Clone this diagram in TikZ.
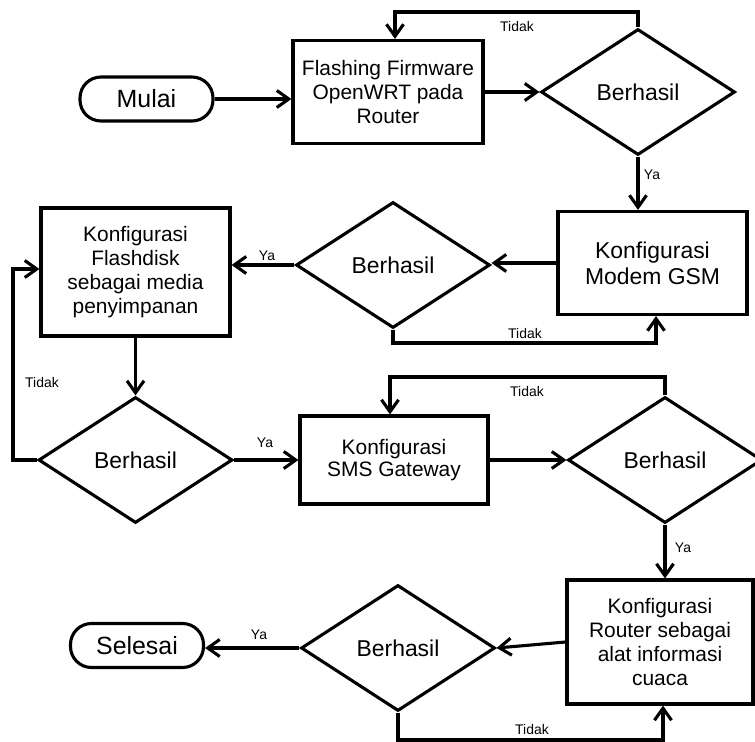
\documentclass[tikz,border=0pt]{standalone}
\usepackage{fontspec}
\setmainfont{Liberation Sans}
\usetikzlibrary{shapes.geometric,arrows.meta}
\begin{document}
\begin{tikzpicture}[x=1bp,y=-1bp,
  line width=3.1bp,
  flow/.style={-{Straight Barb[length=12bp,width=17bp]}},
  proc/.style={draw, rectangle, align=center, inner sep=0pt,
    font=\fontsize{21}{24}\selectfont},
  term/.style={draw, rectangle, rounded corners=21bp, inner sep=0pt,
    minimum width=133bp, minimum height=44bp, font=\fontsize{25}{28}\selectfont},
  decision/.style={draw, diamond, inner sep=0pt, minimum width=194bp,
    minimum height=126bp, font=\fontsize{23}{26}\selectfont},
  lbl/.style={inner sep=0pt, font=\fontsize{14}{16}\selectfont}]

\useasboundingbox (0,0) rectangle (755,742);
\fill[white] (0,0) rectangle (755,742);

% terminals
\node[term] (mulai) at (146.5,99) {Mulai};
\node[term] (selesai) at (137,645.5) {Selesai};

% process steps
\node[proc, minimum width=190bp, minimum height=103bp] (b1) at (388,92)
  {Flashing Firmware\\OpenWRT pada\\Router};
\node[proc, minimum width=189bp, minimum height=103bp,
  font=\fontsize{23}{26}\selectfont] (b2) at (652.5,263)
  {Konfigurasi\\Modem GSM};
\node[proc, minimum width=189bp, minimum height=128bp] (b3) at (135.5,272)
  {Konfigurasi\\Flashdisk\\sebagai media\\penyimpanan};
\node[proc, minimum width=188bp, minimum height=88bp, font=\fontsize{21}{22}\selectfont] (b4) at (394,460)
  {Konfigurasi\\SMS Gateway};
\node[proc, minimum width=186bp, minimum height=124bp] (b5) at (660,642)
  {Konfigurasi\\Router sebagai\\alat informasi\\cuaca};

% decisions
\node[decision] (d1) at (638,92) {Berhasil};
\node[decision] (d2) at (393,265) {Berhasil};
\node[decision] (d3) at (135.5,460) {Berhasil};
\node[decision] (d4) at (665,460) {Berhasil};
\node[decision] (d5) at (398,648) {Berhasil};

% bends of the loop-back lines
\coordinate (t1) at (395,12);
\coordinate (t2) at (656,343);
\coordinate (t3) at (13,269);
\coordinate (t4) at (390,377);
\coordinate (t5) at (663,740);

% connectors
\draw[flow] (mulai.east) -- (mulai.east -| b1.west);
\draw[flow] (b1.east) -- (d1.west);
\draw[flow] (d1.north) |- (t1) -- (t1 |- b1.north);
\draw[flow] (d1.south) -- (d1.south |- b2.north);
\draw[flow] (b2.west) -- (b2.west -| d2.east);
\draw[flow] (d2.west) -- (d2.west -| b3.east);
\draw[flow] (d2.south) |- (t2) -- (t2 |- b2.south);
\draw[flow] (b3.south) -- (d3.north);
\draw[flow] (d3.west) -| (t3) -- (t3 -| b3.west);
\draw[flow] (d3.east) -- (b4.west);
\draw[flow] (b4.east) -- (d4.west);
\draw[flow] (d4.north) |- (t4) -- (t4 |- b4.north);
\draw[flow] (d4.south) -- (d4.south |- b5.north);
\draw[flow] (b5.west) -- (d5.east);
\draw[flow] (d5.west) -- (d5.west -| selesai.east);
\draw[flow] (d5.south) |- (t5) -- (t5 |- b5.south);

% branch labels
\node[lbl] (l1) at (517,27) {Tidak};
\node[lbl] (l2) at (652,175) {Ya};
\node[lbl] (l3) at (267,256) {Ya};
\node[lbl] (l4) at (525,334) {Tidak};
\node[lbl] (l5) at (42,383) {Tidak};
\node[lbl] (l6) at (265,443) {Ya};
\node[lbl] (l7) at (527,392) {Tidak};
\node[lbl] (l8) at (683,548) {Ya};
\node[lbl] (l9) at (259,635) {Ya};
\node[lbl] (l10) at (532,730) {Tidak};
\end{tikzpicture}
\end{document}
